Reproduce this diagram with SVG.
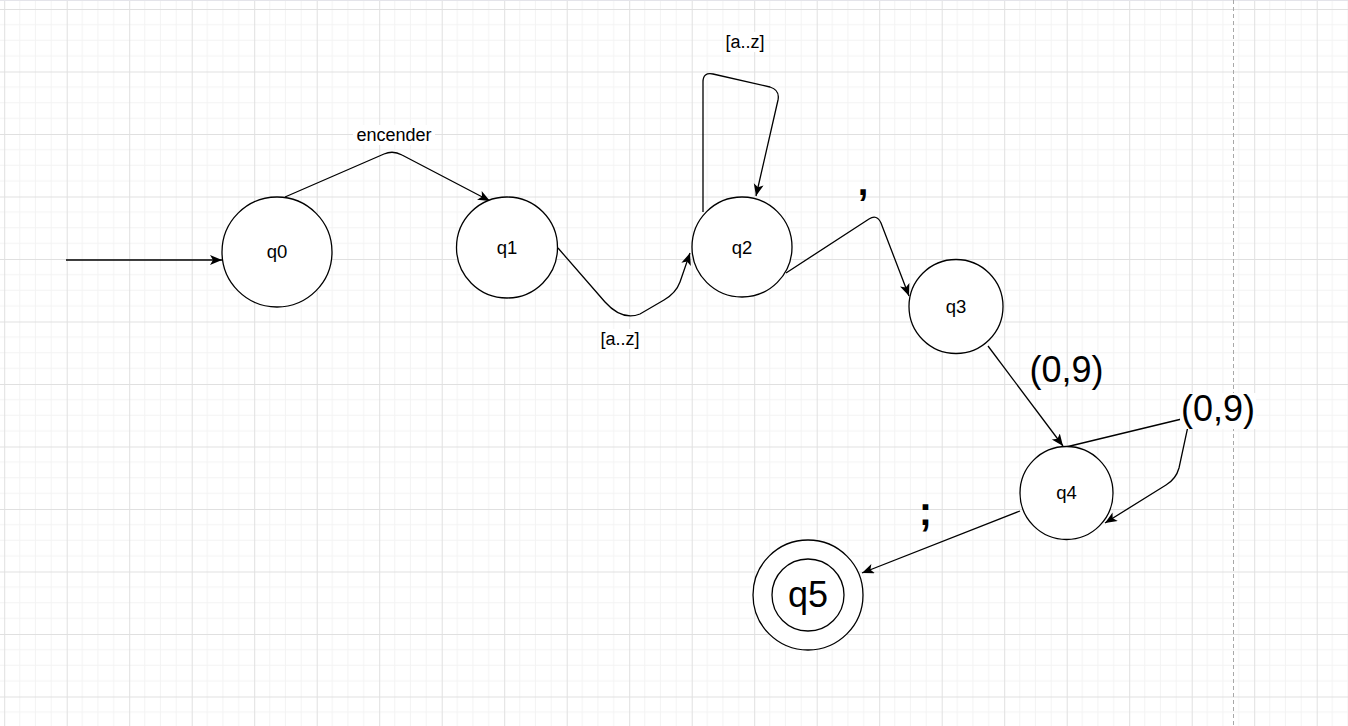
<svg xmlns="http://www.w3.org/2000/svg" width="1348" height="726" viewBox="0 0 1348 726">
  <defs>
    <pattern id="grid" patternUnits="userSpaceOnUse" x="4.2" y="9" width="62.5" height="62.5">
      <path d="M15.6,0V62.5M31.25,0V62.5M46.9,0V62.5M0,15.6H62.5M0,31.25H62.5M0,46.9H62.5" stroke="#f3f3f3" stroke-width="1" fill="none"/>
      <path d="M0.5,0V62.5M0,0.5H62.5" stroke="#e0e0e0" stroke-width="1" fill="none"/>
    </pattern>
    <marker id="arrow" markerUnits="userSpaceOnUse" markerWidth="14" markerHeight="11" refX="12" refY="5" orient="auto">
      <path d="M0,0 L12,5 L0,10 L3,5 Z" fill="#000"/>
    </marker>
    <style>
      .state { fill: #fff; stroke: #000; stroke-width: 1.3; }
      .name { font-family: "Liberation Sans", Arial, sans-serif; font-size: 18.5px; text-anchor: middle; fill: #000; }
      .edge { fill: none; stroke: #000; stroke-width: 1.3; }
      .lbl { font-family: "Liberation Sans", Arial, sans-serif; font-size: 18px; text-anchor: middle; fill: #000; }
      .big { font-size: 36px; }
      .bold { font-weight: bold; }
      .bg { fill: #fff; }
    </style>
  </defs>

  <!-- canvas grid -->
  <rect width="1348" height="726" fill="#fff"/>
  <rect width="1348" height="726" fill="url(#grid)"/>
  <line x1="0" y1="0.5" x2="1348" y2="0.5" stroke="#e4e4ea" stroke-width="1"/>
  <line x1="1233.5" y1="0" x2="1233.5" y2="726" stroke="#a8a8a8" stroke-width="1" stroke-dasharray="4 3"/>

  <!-- transitions -->
  <g id="connectors">
    <path class="edge" d="M66,260 H222" marker-end="url(#arrow)"/>
    <path class="edge" d="M285,197 L384,154 Q393,150 402,155 L490,201" marker-end="url(#arrow)"/>
    <path class="edge" d="M558,248 L605,302 Q622,321 640,314 L664,300 Q676,293 680,282 L690,253" marker-end="url(#arrow)"/>
    <path class="edge" d="M703,212 V82 Q703,72 713,74 L770,87 Q780,90 778,100 L756,196" marker-end="url(#arrow)"/>
    <path class="edge" d="M786,273 L869,219 Q877,214 881,223 L909,296" marker-end="url(#arrow)"/>
    <path class="edge" d="M988,346 L1063,446" marker-end="url(#arrow)"/>
    <path class="edge" d="M1066,447 L1190,417 L1179,468 Q1176,479 1166,485 L1105,523" marker-end="url(#arrow)"/>
    <path class="edge" d="M1020,511 L862,573" marker-end="url(#arrow)"/>

    <!-- transition labels -->
    <rect class="bg" x="353" y="125" width="82" height="20"/>
    <text class="lbl" x="394" y="141">encender</text>
    <rect class="bg" x="725" y="32" width="40" height="20"/>
    <text class="lbl" x="745" y="48">[a..z]</text>
    <rect class="bg" x="600" y="329" width="40" height="20"/>
    <text class="lbl" x="620" y="345">[a..z]</text>
    <text class="lbl big bold" x="863" y="195" style="font-size:38px">,</text>
    <text class="lbl big" x="1066.5" y="382">(0,9)</text>
    <rect class="bg" x="1180" y="393" width="76" height="36"/>
    <text class="lbl big" x="1218" y="420.5">(0,9)</text>
    <text class="lbl big bold" x="925.5" y="525" style="font-size:40px">;</text>
  </g>

  <!-- states -->
  <g id="q0">
    <circle class="state" cx="277" cy="252" r="55"/>
    <text class="name" x="277" y="258">q0</text>
  </g>
  <g id="q1">
    <circle class="state" cx="507" cy="247.5" r="50.5"/>
    <text class="name" x="507" y="254">q1</text>
  </g>
  <g id="q2">
    <circle class="state" cx="742" cy="247" r="50"/>
    <text class="name" x="742" y="254">q2</text>
  </g>
  <g id="q3">
    <circle class="state" cx="956" cy="306.5" r="47"/>
    <text class="name" x="956" y="313">q3</text>
  </g>
  <g id="q4">
    <circle class="state" cx="1066.5" cy="493" r="46.5"/>
    <text class="name" x="1066.5" y="499">q4</text>
  </g>
  <g id="q5">
    <circle class="state" cx="808" cy="595" r="55"/>
    <circle class="state" cx="808" cy="595" r="36"/>
    <text class="name big" x="808" y="607">q5</text>
  </g>
</svg>
